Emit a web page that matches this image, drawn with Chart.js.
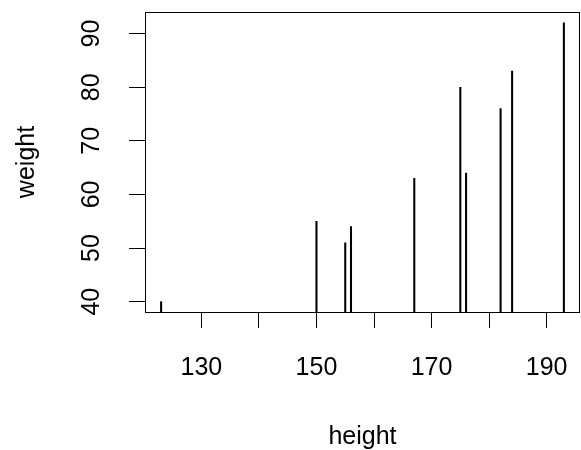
<!DOCTYPE html>
<html>
<head>
<meta charset="utf-8">
<script src="https://cdn.jsdelivr.net/npm/chart.js@4"></script>
<style>
html,body{margin:0;padding:0;background:#fff;}
#wrap{width:581px;height:450px;}
</style>
</head>
<body>
<div id="wrap"><canvas id="c" width="581" height="450"></canvas></div>
<script>
const heights = [123, 150, 155, 156, 167, 175, 176, 182, 184, 193];
const weights = [40, 55, 51, 54, 63, 80, 64, 76, 83, 92];
const xTicks = [130, 140, 150, 160, 170, 180, 190];
const xTickLabels = ['130', '', '150', '', '170', '', '190'];
const yTicks = [40, 50, 60, 70, 80, 90];
const yTickLabels = ['40', '50', '60', '70', '80', '90'];

const FONT = "'Liberation Sans', Arial, sans-serif";
const FS = 25;

const boxPlugin = {
  id: 'box',
  afterDraw(chart) {
    const {ctx, chartArea: a} = chart;
    ctx.save();
    ctx.strokeStyle = '#000';
    ctx.lineWidth = 1;
    ctx.strokeRect(Math.round(a.left) + 0.5, Math.round(a.top) + 0.5, Math.round(a.right - a.left) - 1, Math.round(a.bottom - a.top));
    const ys = chart.scales.y;
    ctx.fillStyle = '#000';
    ctx.font = FS + 'px ' + FONT;
    ctx.textAlign = 'center';
    ctx.textBaseline = 'middle';
    yTicks.forEach((v, i) => {
      const py = ys.getPixelForValue(v);
      ctx.save();
      ctx.translate(92, py);
      ctx.rotate(-Math.PI / 2);
      ctx.fillText(yTickLabels[i], 0, 0);
      ctx.restore();
    });
    ctx.restore();
  }
};

new Chart(document.getElementById('c'), {
  type: 'bar',
  data: {
    datasets: [{
      data: heights.map((h, i) => ({x: h, y: weights[i]})),
      backgroundColor: '#000',
      borderWidth: 0,
      barThickness: 1.4,
      grouped: false
    }]
  },
  options: {
    responsive: false,
    animation: false,
    devicePixelRatio: 1,
    layout: {autoPadding: false, padding: {top: 12, right: 1, left: 0, bottom: 0}},
    plugins: {legend: {display: false}, tooltip: {enabled: false}},
    scales: {
      x: {
        type: 'linear',
        offset: false,
        min: 120.2,
        max: 195.8,
        afterBuildTicks(s) { s.ticks = xTicks.map(v => ({value: v})); },
        afterFit(s) { s.height = 138; s.paddingLeft = 0; s.paddingRight = 0; },
        grid: {drawOnChartArea: false, drawTicks: true, tickLength: 16, tickColor: '#000', tickWidth: 1, offset: false},
        border: {display: false},
        ticks: {
          autoSkip: false, maxRotation: 0, minRotation: 0,
          color: '#000', font: {family: FONT, size: FS}, padding: 25,
          callback(v) { const i = xTicks.indexOf(v); return i >= 0 ? xTickLabels[i] : null; }
        },
        title: {display: true, text: 'height', color: '#000', font: {family: FONT, size: FS}, padding: {top: 0, bottom: -2}}
      },
      y: {
        type: 'linear',
        min: 38.08,
        max: 94.03,
        afterBuildTicks(s) { s.ticks = yTicks.map(v => ({value: v})); },
        afterFit(s) { s.width = 145; s.paddingTop = 0; s.paddingBottom = 0; },
        grid: {drawOnChartArea: false, drawTicks: true, tickLength: 16, tickColor: '#000', tickWidth: 1},
        border: {display: false},
        ticks: {display: false},
        title: {display: true, text: 'weight', color: '#000', font: {family: FONT, size: FS}, padding: {top: 12, bottom: 0}}
      }
    }
  },
  plugins: [boxPlugin]
});
</script>
</body>
</html>
